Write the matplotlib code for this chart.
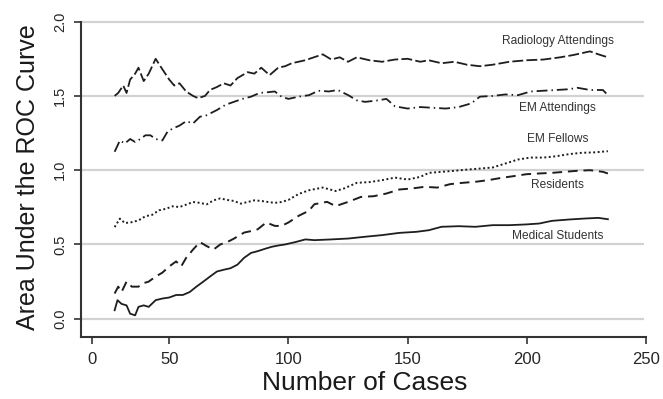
import matplotlib
matplotlib.use('Agg')
import matplotlib.pyplot as plt

plt.rcParams['font.family'] = ['Liberation Sans', 'DejaVu Sans']

# Data (cases, AUC)
rad_x = [27.1, 28.6, 30.7, 32.1, 33.6, 35.7, 37.1, 39.3, 41.4, 44.3, 47.1, 50, 52.1, 54.3, 57.1,
         60, 62.1, 65, 67.1, 70, 72.9, 75.7, 78.6, 82.9, 85.7, 88.6, 92.1, 95.7, 98.6, 101.4, 107,
         114.4, 118, 121.5, 125, 128.7, 134, 139.3, 144.7, 150, 155.3, 158.9, 164.2, 169.6, 174.9,
         180.3, 185.6, 192.7, 199.8, 207, 214, 219.4, 226.5, 230, 234]
rad_y = [1.50, 1.52, 1.57, 1.52, 1.61, 1.65, 1.69, 1.60, 1.65, 1.75, 1.68, 1.61, 1.57, 1.585, 1.53,
         1.50, 1.485, 1.50, 1.54, 1.56, 1.585, 1.57, 1.62, 1.66, 1.65, 1.69, 1.64, 1.69, 1.70, 1.72, 1.74,
         1.78, 1.745, 1.76, 1.73, 1.76, 1.74, 1.73, 1.745, 1.75, 1.73, 1.74, 1.72, 1.73, 1.71,
         1.70, 1.71, 1.73, 1.74, 1.745, 1.76, 1.775, 1.80, 1.78, 1.76]

ema_x = [27.1, 29.3, 31.4, 33.6, 35.7, 37.9, 40, 42.1, 44.3, 47.1, 49.3, 51.4, 54.3, 57.1, 60,
         62.9, 65.7, 70, 73.6, 77.1, 80.7, 84.3, 87.9, 91.4, 94.3, 97.1, 100, 104.3, 108.6,
         112.6, 117, 120.7, 125.1, 128.7, 132.2, 137.6, 141.1, 144.7, 150, 155.3, 160.7, 166,
         171.4, 176.7, 180.3, 185.6, 191, 196.3, 201.6, 207, 212.3, 217.6, 221.2, 226.5, 231.9, 234]
ema_y = [1.124, 1.20, 1.18, 1.21, 1.19, 1.21, 1.235, 1.235, 1.21, 1.20, 1.26, 1.28, 1.30, 1.33, 1.315,
         1.36, 1.37, 1.405, 1.44, 1.46, 1.48, 1.495, 1.52, 1.525, 1.53, 1.495, 1.48, 1.495, 1.505,
         1.535, 1.53, 1.54, 1.505, 1.47, 1.46, 1.47, 1.48, 1.43, 1.415, 1.425, 1.42, 1.415,
         1.425, 1.45, 1.495, 1.50, 1.51, 1.505, 1.53, 1.535, 1.54, 1.545, 1.555, 1.54, 1.54, 1.505]

fel_x = [27.1, 29.3, 31.4, 34.3, 37.1, 40, 42.9, 45.7, 48.6, 51.4, 54.3, 57.1, 60, 62.9, 65.7,
         68.6, 71.4, 74.3, 77.1, 80, 82.9, 85.7, 88.6, 91.4, 94.3, 97.1, 100, 104.3, 108.6,
         114.4, 119.8, 123.3, 128.7, 134, 139.3, 144.7, 150, 155.3, 158.9, 164.2, 169.6, 174.9,
         180.3, 185.6, 191, 196.3, 201.6, 207, 212.3, 217.6, 223, 228.3, 234]
fel_y = [0.617, 0.674, 0.644, 0.65, 0.662, 0.69, 0.70, 0.73, 0.74, 0.757, 0.752, 0.768, 0.786, 0.78, 0.77,
         0.797, 0.81, 0.80, 0.793, 0.775, 0.786, 0.797, 0.793, 0.786, 0.78, 0.786, 0.80, 0.84, 0.865,
         0.883, 0.86, 0.877, 0.915, 0.92, 0.933, 0.95, 0.937, 0.955, 0.982, 0.989, 0.996, 1.004,
         1.011, 1.018, 1.045, 1.072, 1.085, 1.085, 1.094, 1.108, 1.117, 1.12, 1.128]

res_x = [27.1, 28.6, 30, 32.1, 34.3, 37.1, 39.3, 41.4, 44.3, 47.1, 50, 52.9, 55, 57.1, 60,
         62.9, 65.7, 68.6, 71.4, 74.3, 77.1, 81.4, 84.3, 87.1, 90.7, 94.3, 97.1, 100, 104.3, 108.6,
         110.9, 116.2, 119.8, 125.1, 130.4, 135.8, 141.1, 146.5, 151.8, 157.1, 162.5, 167.8, 173.1,
         178.5, 183.8, 189.2, 194.5, 199.8, 205.2, 210.5, 215.8, 221.2, 226.5, 231.9, 234]
res_y = [0.17, 0.216, 0.18, 0.25, 0.216, 0.216, 0.24, 0.25, 0.284, 0.31, 0.352, 0.386, 0.352, 0.41, 0.466,
         0.516, 0.489, 0.466, 0.50, 0.516, 0.539, 0.58, 0.59, 0.602, 0.648, 0.625, 0.625, 0.648, 0.693, 0.727,
         0.771, 0.787, 0.758, 0.787, 0.82, 0.825, 0.843, 0.87, 0.877, 0.888, 0.883, 0.906, 0.915,
         0.922, 0.933, 0.948, 0.96, 0.973, 0.978, 0.982, 0.989, 0.996, 1.0, 0.989, 0.978]

med_x = [27.1, 28.3, 30, 32.1, 33.6, 35.7, 37.1, 39.3, 41.4, 44.3, 47.1, 50, 52.9, 55.7, 58.6,
         61.4, 64.3, 67.1, 70, 72.9, 75.7, 78.6, 81.4, 84.3, 87.1, 90, 92.9, 95.7, 98.6, 102.9, 107.1,
         110.9, 118, 125.1, 132.2, 139.3, 146.5, 153.6, 158.9, 164.2, 171.4, 178.5, 185.6, 192.7,
         199.8, 205.2, 210.5, 217.6, 224.7, 230, 234]
med_y = [0.057, 0.125, 0.10, 0.09, 0.034, 0.023, 0.08, 0.09, 0.08, 0.125, 0.136, 0.143, 0.16, 0.16, 0.18,
         0.216, 0.25, 0.284, 0.318, 0.33, 0.34, 0.364, 0.41, 0.443, 0.455, 0.47, 0.484, 0.493, 0.50, 0.516, 0.534,
         0.529, 0.534, 0.54, 0.552, 0.563, 0.578, 0.585, 0.596, 0.619, 0.623, 0.619, 0.63, 0.63,
         0.635, 0.641, 0.659, 0.668, 0.675, 0.679, 0.67]

group_names = ['Radiology Attendings', 'EM Attendings', 'EM Fellows', 'Residents', 'Medical Students']
label_y = [1.87, 1.42, 1.21, 0.90, 0.56]

ytick_vals = [0.0, 0.5, 1.0, 1.5, 2.0]
xtick_labels = ['0', '50', '100', '150', '200', '250']
xtick_pos = [17.5, 50, 100, 150, 200, 250]

fig = plt.figure(figsize=(6.63, 3.99), dpi=100)
ax = fig.add_axes([0.1222, 0.1561, 0.978 - 0.1222, 0.9569 - 0.1561])

# light horizontal reference lines
ax.hlines(ytick_vals, 13, 249, color='#d2d2d2', lw=1.6, zorder=1)

dark = '#1e1e1e'
ax.plot(rad_x, rad_y, color=dark, lw=1.3, linestyle=(0, (6, 1.8)))
ax.plot(ema_x, ema_y, color=dark, lw=1.3, linestyle=(0, (6, 2.2, 0.8, 2.2)))
ax.plot(fel_x, fel_y, color=dark, lw=1.4, linestyle=(0, (1, 1.3)))
ax.plot(res_x, res_y, color=dark, lw=1.4, linestyle=(0, (5, 3)))
ax.plot(med_x, med_y, color=dark, lw=1.3, linestyle='-')

for name, ly in zip(group_names, label_y):
    ax.text(213, ly, name, fontsize=8.6, color='#333333', ha='center', va='center')

ax.set_xlim(13, 251)
ax.set_ylim(-0.121, 2.03)

for s in ['top', 'right']:
    ax.spines[s].set_visible(False)
for s in ['left', 'bottom']:
    ax.spines[s].set_color('#333333')
    ax.spines[s].set_linewidth(1.5)
ax.spines['left'].set_bounds(-0.121, 2.0)
ax.spines['bottom'].set_bounds(13, 250)

ax.set_xticks(xtick_pos)
ax.set_xticklabels(xtick_labels, fontsize=12, color='#262626')
ax.set_yticks(ytick_vals)
ax.set_yticklabels(['%.1f' % v for v in ytick_vals], fontsize=10.5, color='#262626',
                   rotation=90, va='center')
ax.tick_params(axis='both', direction='out', length=5, width=1.2, color='#333333')
ax.tick_params(axis='x', pad=6)
ax.tick_params(axis='y', pad=5)

ax.set_xlabel('Number of Cases', fontsize=19, color='#1a1a1a')
ax.xaxis.set_label_coords(0.5, -0.108)
ax.set_ylabel('Area Under the ROC Curve', fontsize=18, color='#1a1a1a')
ax.yaxis.set_label_coords(-0.072, 0.5)

fig.savefig('out.png', dpi=100)
